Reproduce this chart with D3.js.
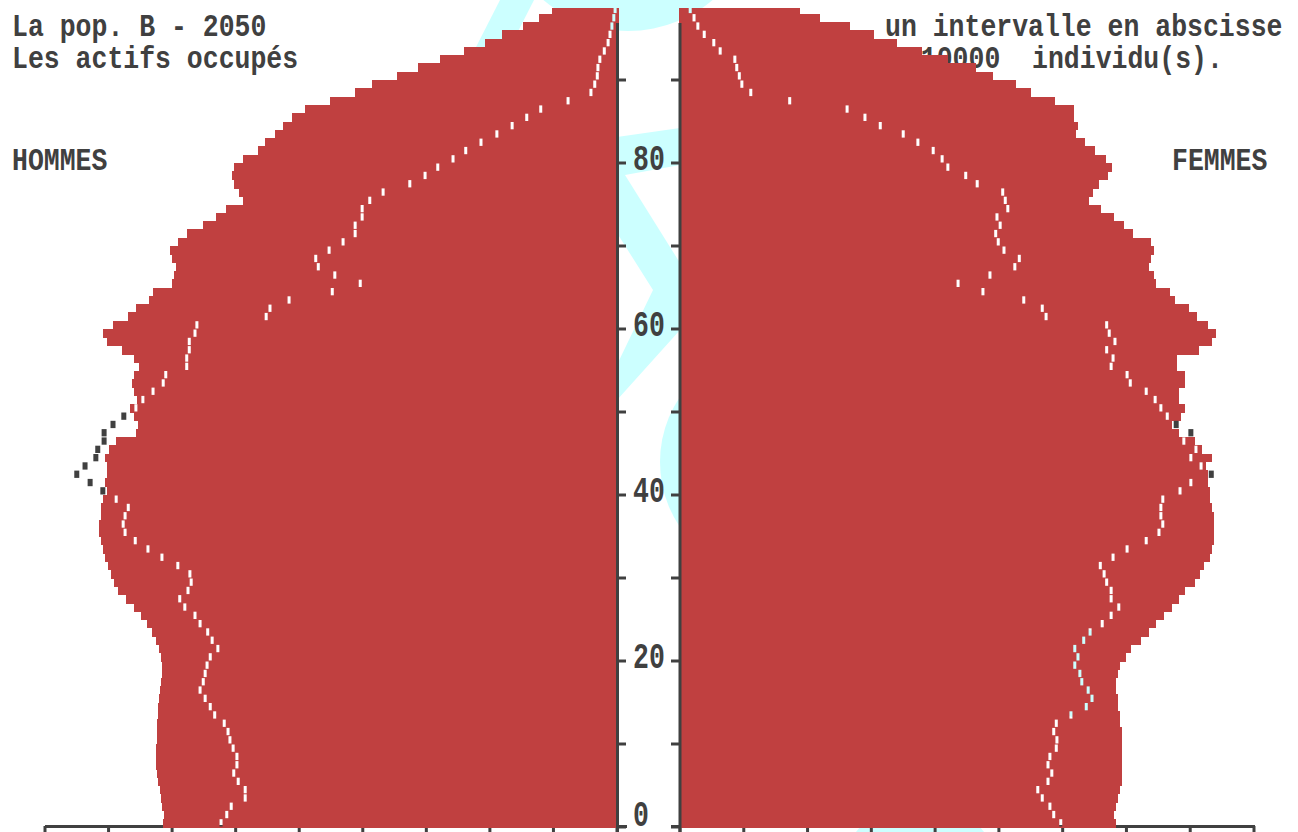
<!DOCTYPE html>
<html>
<head>
<meta charset="utf-8">
<script src="https://cdn.jsdelivr.net/npm/d3@7"></script>
<style>
  html, body { margin: 0; padding: 0; background: #ffffff; }
  svg { display: block; }
  text { font-family: "Liberation Mono", "DejaVu Sans Mono", monospace; font-weight: bold; fill: #404040; white-space: pre; }
</style>
</head>
<body>
<svg id="chart" width="1298" height="832"></svg>
<script>
// ---- DATA (values in thousands of individuals, one value per age 0..98) ----
const ages = d3.range(0, 99);

const hommes = [
  71.4, 71.3, 71.6, 71.8, 71.9, 72.2, 72.4, 72.5, 72.5, 72.5,
  72.4, 72.4, 72.4, 72.2, 72.2, 72.1, 71.9, 71.8, 71.6, 71.6,
  71.8, 72.1, 72.5, 73.2, 74.0, 74.9, 76.0, 77.3, 78.5, 79.1,
  79.6, 80.1, 80.6, 80.9, 81.2, 81.5, 81.5, 81.2, 81.2, 80.9,
  80.3, 80.6, 80.3, 80.3, 80.6, 79.9, 78.8, 75.7, 75.4, 76.0,
  76.6, 75.5, 76.0, 76.3, 76.0, 75.2, 76.0, 77.9, 80.3, 80.9,
  79.3, 76.9, 75.7, 73.6, 73.0, 70.0, 69.7, 69.4, 70.0, 70.3,
  69.1, 67.7, 65.1, 63.1, 61.5, 58.9, 59.5, 60.3, 60.6, 60.3,
  58.9, 56.5, 55.4, 53.8, 52.6, 51.1, 49.1, 45.2, 41.2, 38.6,
  34.6, 31.3, 27.9, 24.1, 20.8, 18.1, 14.8, 12.3, 10.2
];

const femmes = [
  68.4, 68.0, 68.4, 68.7, 69.0, 69.3, 69.3, 69.3, 69.3, 69.3,
  69.3, 69.3, 69.0, 69.0, 68.7, 68.7, 68.4, 68.4, 68.7, 69.0,
  69.9, 70.7, 72.3, 73.5, 74.6, 75.9, 77.1, 78.2, 79.2, 80.7,
  81.5, 82.2, 83.1, 83.4, 83.7, 83.7, 83.7, 83.7, 83.4, 83.1,
  83.1, 82.8, 82.8, 82.5, 83.4, 81.8, 80.7, 78.2, 77.2, 78.6,
  79.2, 78.2, 78.2, 79.2, 79.2, 77.9, 77.9, 81.4, 83.4, 84.0,
  82.8, 81.1, 79.8, 77.6, 76.8, 74.6, 74.3, 73.5, 73.8, 74.3,
  73.8, 71.0, 69.6, 68.0, 66.0, 64.1, 64.8, 65.7, 67.1, 67.7,
  66.8, 65.1, 63.5, 62.1, 62.4, 61.8, 61.8, 58.8, 55.0, 52.7,
  49.1, 46.4, 42.0, 37.9, 34.0, 30.4, 26.7, 22.0, 18.8
];

// reference profile (drawn as small dashes)
const hommesRef = [
  62.3, 61.4, 60.7, 58.5, 58.5, 59.6, 60.3, 59.8, 59.8, 60.4,
  60.9, 61.2, 61.8, 63.3, 64.0, 64.8, 65.6, 65.1, 64.8, 64.5,
  64.0, 62.8, 63.7, 64.4, 65.6, 66.4, 68.0, 68.8, 67.5, 67.0,
  67.2, 69.1, 71.6, 73.8, 75.8, 77.4, 77.7, 77.4, 76.9, 78.8,
  80.9, 82.9, 85.0, 83.7, 82.0, 81.7, 80.7, 80.7, 79.3, 77.6,
  75.7, 74.6, 73.0, 71.4, 71.0, 67.7, 67.7, 67.3, 67.3, 66.4,
  66.1, 55.2, 54.6, 51.6, 44.8, 40.4, 44.4, 47.0, 47.4, 45.3,
  43.1, 41.2, 41.2, 40.1, 40.1, 38.9, 36.8, 32.6, 30.2, 28.2,
  25.8, 23.8, 21.4, 18.9, 16.5, 14.2, 12.0, 7.7, 4.1, 3.5,
  3.1, 3.0, 2.7, 2.0, 1.4, 1.1, 0.8, 0.5, 0.3
];

const femmesRef = [
  59.7, 58.6, 58.0, 56.8, 56.1, 57.7, 58.3, 57.7, 58.0, 59.0,
  59.1, 58.6, 59.0, 61.3, 63.7, 64.6, 64.0, 63.0, 62.7, 61.9,
  62.4, 61.9, 63.3, 64.3, 66.2, 67.6, 68.8, 67.6, 67.6, 66.9,
  66.5, 65.9, 67.9, 70.1, 73.1, 75.1, 75.7, 75.4, 75.4, 75.7,
  78.4, 80.1, 83.3, 81.7, 80.1, 80.9, 79.0, 80.1, 77.8, 76.4,
  75.4, 74.5, 73.1, 70.6, 70.1, 67.6, 67.9, 66.9, 68.2, 67.3,
  66.9, 57.4, 56.8, 53.9, 47.5, 43.6, 48.6, 52.5, 53.2, 50.8,
  49.9, 49.5, 50.2, 49.7, 51.4, 51.0, 50.6, 46.6, 44.8, 42.0,
  41.1, 39.7, 37.3, 35.0, 31.4, 29.0, 26.2, 17.2, 11.1, 9.7,
  9.3, 8.9, 8.6, 6.3, 5.3, 3.8, 2.8, 2.2, 1.6
];

const yTicks = d3.range(0, 100, 10);
const yLabels = [0, 20, 40, 60, 80];
const xTicks = d3.range(0, 100, 10);  // one interval = 10000 individus

const titleLines = ["La pop. B - 2050", "Les actifs occupés"];
const noteLines = ["un intervalle en abscisse", "= 10000  individu(s)."];
const sexLabels = ["HOMMES", "FEMMES"];

// ---- LAYOUT ----
const W = 1298, H = 832;
const red = "#c04040", dark = "#404040", cyan = "#ccffff";
const axL = 617.5, axR = 680;
const y = d3.scaleLinear().domain([0, 100]).range([827, -3]);
const xL = d3.scaleLinear().domain([0, 90]).range([617, 45]);
const xR = d3.scaleLinear().domain([0, 90]).range([680, 1254]);

const svg = d3.select("#chart");
svg.append("rect").attr("width", W).attr("height", H).attr("fill", "#fff");

// ---- background cyan emblem ----
const bg = svg.append("g").attr("fill", cyan);
bg.append("circle").attr("cx", 628).attr("cy", -100).attr("r", 131);
bg.append("path").attr("d", "M500,0 L534,0 L483,100 L449,100 Z");
bg.append("path").attr("d",
  "M590,141 L617,137 L680,128 L690,127 L690,164 L680,165 L625,175 L680,263 L690,263 L690,330 L680,330 L617,400 L600,400 L653,290 L617,233 L590,233 Z");
bg.append("circle").attr("cx", 776).attr("cy", 462).attr("r", 116);
bg.append("ellipse").attr("cx", 1080).attr("cy", 673).attr("rx", 30).attr("ry", 46);
bg.append("circle").attr("cx", 920).attr("cy", 880).attr("r", 80);

// ---- texts ----
function txt(s, x, base, sy, anchor) {
  svg.append("text")
    .attr("transform", `translate(${x},${base}) scale(1,${sy})`)
    .attr("text-anchor", anchor || "start")
    .attr("xml:space", "preserve")
    .style("font-size", "26.5px")
    .text(s);
}
txt(titleLines[0], 12, 36, 1.15);
txt(titleLines[1], 12, 68, 1.15);
txt(noteLines[0], 885, 36, 1.15);
txt(noteLines[1], 889, 68, 1.15);
txt(sexLabels[0], 12, 170, 1.15);
txt(sexLabels[1], 1172, 170, 1.15);

// ---- bottom axes (drawn under the bars) ----
const axG = svg.append("g").attr("stroke", dark).attr("stroke-width", 3).attr("fill", "none");
axG.append("line").attr("x1", xL(90)).attr("x2", 627).attr("y1", 826.5).attr("y2", 826.5);
axG.append("line").attr("x1", 671).attr("x2", xR(90) + 1).attr("y1", 826.5).attr("y2", 826.5);
axG.selectAll(".tl").data(xTicks).join("line")
  .attr("x1", d => xL(d)).attr("x2", d => xL(d)).attr("y1", 826).attr("y2", 834);
axG.selectAll(".tr").data(xTicks).join("line")
  .attr("x1", d => xR(d)).attr("x2", d => xR(d)).attr("y1", 826).attr("y2", 834);

// ---- mask for the holes (reference dashes inside the bars) ----
const defs = svg.append("defs");
defs.append("clipPath").attr("id", "topclip")
  .append("rect").attr("x", 0).attr("y", 8).attr("width", W).attr("height", H);
const mask = defs.append("mask").attr("id", "holes")
  .attr("maskUnits", "userSpaceOnUse").attr("x", 0).attr("y", 0).attr("width", W).attr("height", H);
mask.append("rect").attr("width", W).attr("height", H).attr("fill", "#fff");

const rowsL = ages.map(a => ({a, v: hommes[a], r: hommesRef[a]}));
const rowsR = ages.map(a => ({a, v: femmes[a], r: femmesRef[a]}));
const bandTop = d => y(d.a + 1), bandH = d => y(d.a) - y(d.a + 1);

mask.selectAll(".hl").data(rowsL.filter(d => d.r <= d.v)).join("rect")
  .attr("x", d => xL(d.r) - 1.5).attr("width", 3)
  .attr("y", d => bandTop(d) + 0.5).attr("height", d => bandH(d) - 1).attr("fill", "#000");
mask.selectAll(".hr").data(rowsR.filter(d => d.r <= d.v)).join("rect")
  .attr("x", d => xR(d.r) - 1.5).attr("width", 3)
  .attr("y", d => bandTop(d) + 0.5).attr("height", d => bandH(d) - 1).attr("fill", "#000");

// ---- bars ----
const bars = svg.append("g").attr("clip-path", "url(#topclip)")
  .append("g").attr("mask", "url(#holes)").attr("fill", red).attr("shape-rendering", "crispEdges");
bars.selectAll(".bl").data(rowsL).join("rect")
  .attr("x", d => xL(d.v)).attr("width", d => 619 - xL(d.v))
  .attr("y", bandTop).attr("height", d => bandH(d) + 0.6);
bars.selectAll(".br").data(rowsR).join("rect")
  .attr("x", 679).attr("width", d => xR(d.v) - 679)
  .attr("y", bandTop).attr("height", d => bandH(d) + 0.6);

// ---- reference dashes outside the bars ----
const out = svg.append("g").attr("fill", dark);
out.selectAll(".ol").data(rowsL.filter(d => d.r > d.v)).join("rect")
  .attr("x", d => xL(d.r) - 2.5).attr("width", 5)
  .attr("y", d => bandTop(d) + 0.5).attr("height", d => bandH(d) - 1);
out.selectAll(".or").data(rowsR.filter(d => d.r > d.v)).join("rect")
  .attr("x", d => xR(d.r) - 2.5).attr("width", 5)
  .attr("y", d => bandTop(d) + 0.5).attr("height", d => bandH(d) - 1);

// ---- vertical age axes ----
const vG = svg.append("g").attr("stroke", dark).attr("stroke-width", 3);
vG.append("line").attr("x1", axL).attr("x2", axL).attr("y1", 23).attr("y2", 832);
vG.append("line").attr("x1", axR).attr("x2", axR).attr("y1", 23).attr("y2", 832);
vG.selectAll(".ytl").data(yTicks).join("line")
  .attr("x1", axL).attr("x2", 626).attr("y1", d => y(d)).attr("y2", d => y(d));
vG.selectAll(".ytr").data(yTicks).join("line")
  .attr("x1", 671).attr("x2", axR).attr("y1", d => y(d)).attr("y2", d => y(d));

svg.selectAll(".ylab").data(yLabels).join("text")
  .attr("transform", d => `translate(633,${Math.min(y(d) + 7, 826)}) scale(1,1.4)`)
  .style("font-size", "26.5px")
  .text(d => d);
</script>
</body>
</html>
